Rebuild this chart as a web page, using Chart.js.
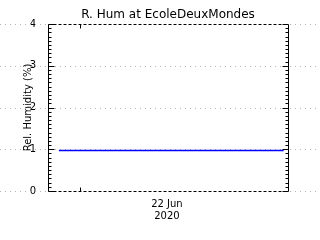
<!DOCTYPE html>
<html>
<head>
<meta charset="utf-8">
<script src="https://cdn.jsdelivr.net/npm/chart.js@4"></script>
<style>
  html, body { margin: 0; padding: 0; background: #fff; }
  #wrap { width: 320px; height: 240px; }
</style>
</head>
<body>
<div id="wrap"><canvas id="chart" width="320" height="240"></canvas></div>
<script>
// hours relative to 22 Jun 2020 00:00
const hours = [-2.9, 28.1];
const humidity = [0.97, 0.97];
const yTicks = [0, 1, 2, 3, 4];
const dayTick = 0;
const dayLabelAt = 12;
const dayLabel = ["22 Jun", "2020"];
const chartTitle = "R. Hum at EcoleDeuxMondes";

const FONT = "'DejaVu Sans', sans-serif";

// frame, dotted grid lines, inward tick marks and the title over the plot
const framePlugin = {
  id: "frame",
  beforeDatasetsDraw(chart) {
    const ctx = chart.ctx;
    const a = chart.chartArea;
    const x = chart.scales.x;
    const y = chart.scales.y;
    ctx.save();
    // dotted grid across the whole width
    ctx.strokeStyle = "#b4b4b4";
    ctx.lineWidth = 1;
    ctx.setLineDash([1, 4]);
    yTicks.forEach((v) => {
      const py = Math.round(y.getPixelForValue(v)) + 0.5;
      ctx.beginPath();
      ctx.moveTo(0, py);
      ctx.lineTo(chart.width, py);
      ctx.stroke();
    });
    ctx.setLineDash([]);
    ctx.strokeStyle = "#000";
    const L = Math.round(a.left) + 0.5, R = Math.round(a.right) + 0.5;
    const T = Math.round(a.top) + 0.5, B = Math.round(a.bottom) + 0.5;
    // left / right solid
    ctx.beginPath();
    ctx.moveTo(L, T); ctx.lineTo(L, B);
    ctx.moveTo(R, T); ctx.lineTo(R, B);
    ctx.stroke();
    // top / bottom dashed
    ctx.setLineDash([3, 2]);
    ctx.beginPath();
    ctx.moveTo(L, T); ctx.lineTo(R, T);
    ctx.moveTo(L, B); ctx.lineTo(R, B);
    ctx.stroke();
    ctx.setLineDash([]);
    // y ticks (major + minor), inward
    ctx.beginPath();
    for (let i = 0; i <= 40; i++) {
      const v = i / 10;
      const py = Math.round(y.getPixelForValue(v)) + 0.5;
      const len = i % 10 === 0 ? 6 : 3;
      ctx.moveTo(L, py); ctx.lineTo(L + len, py);
      ctx.moveTo(R, py); ctx.lineTo(R - len, py);
    }
    // x tick at day start
    const px = Math.round(x.getPixelForValue(dayTick)) + 0.5;
    ctx.moveTo(px, B); ctx.lineTo(px, B - 4);
    ctx.moveTo(px, T); ctx.lineTo(px, T + 4);
    ctx.stroke();
    // title centred on the plot
    ctx.fillStyle = "#000";
    ctx.font = "12px " + FONT;
    ctx.textAlign = "center";
    ctx.textBaseline = "alphabetic";
    ctx.fillText(chartTitle, (a.left + a.right) / 2, 18);
    ctx.restore();
  },
};

new Chart(document.getElementById("chart"), {
  type: "line",
  data: {
    datasets: [
      {
        data: hours.map((h, i) => ({ x: h, y: humidity[i] })),
        borderColor: "rgb(0, 0, 255)",
        borderWidth: 1.5,
        pointRadius: 0,
        tension: 0,
      },
    ],
  },
  options: {
    responsive: false,
    animation: false,
    events: [],
    layout: { padding: { left: 0, right: 32, top: 24, bottom: 0 } },
    plugins: {
      legend: { display: false },
      tooltip: { enabled: false },
      title: { display: false },
    },
    scales: {
      x: {
        type: "linear",
        min: -4.4,
        max: 28.7,
        grid: { display: false },
        border: { display: false },
        afterBuildTicks: (s) => { s.ticks = [{ value: dayLabelAt }]; },
        afterFit: (s) => { s.height = 49; },
        ticks: {
          color: "#000",
          font: { family: FONT, size: 10, lineHeight: 1.25 },
          padding: -1,
          maxRotation: 0,
          autoSkip: false,
          callback: (v) => (v === dayLabelAt ? dayLabel : ""),
        },
      },
      y: {
        min: 0,
        max: 4,
        grid: { display: false },
        border: { display: false },
        afterBuildTicks: (s) => { s.ticks = yTicks.map((v) => ({ value: v })); },
        afterFit: (s) => { s.width = 48; },
        ticks: {
          color: "#000",
          font: { family: FONT, size: 10 },
          padding: 4,
        },
        title: {
          display: true,
          text: "Rel. Humidity (%)",
          color: "#000",
          font: { family: FONT, size: 10 },
          padding: { top: 22, bottom: 0 },
        },
      },
    },
  },
  plugins: [framePlugin],
});
</script>
</body>
</html>
